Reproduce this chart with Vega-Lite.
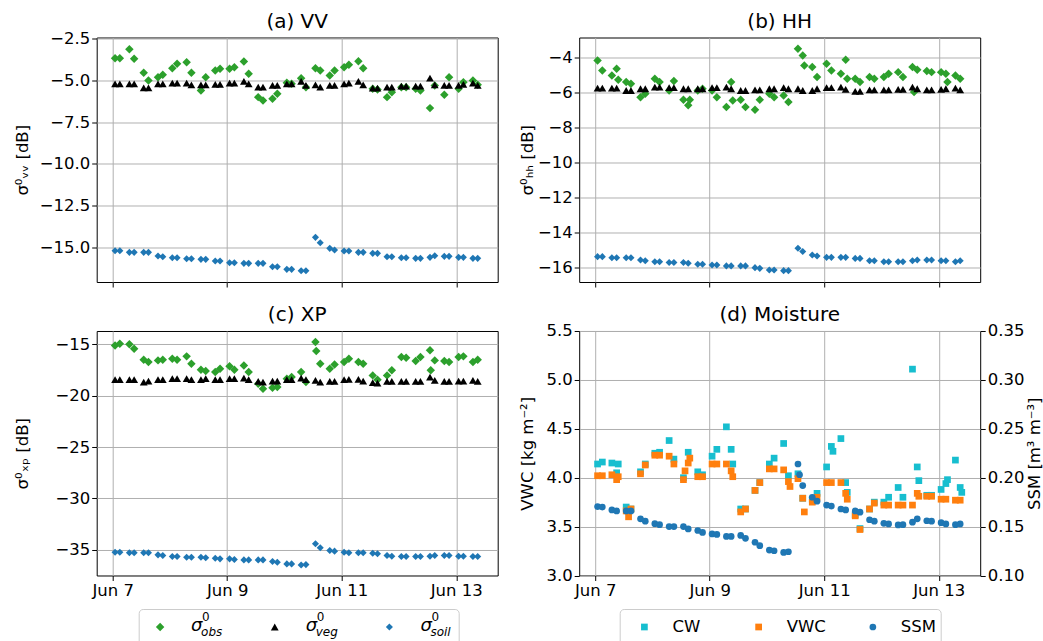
{
  "$schema": "https://vega.github.io/schema/vega-lite/v6.json",
  "background": "white",
  "padding": {"left": 5.7, "top": 10.5, "right": 0, "bottom": 0},
  "config": {
    "font": "DejaVu Sans",
    "view": {"stroke": "black", "strokeWidth": 1},
    "axis": {"labelFontSize": 16.5, "titleFontSize": 16.5, "titleFontWeight": "normal", "labelColor": "black", "titleColor": "black", "tickColor": "black", "tickSize": 5, "tickWidth": 1, "labelPadding": 2, "domain": false, "gridColor": "#b0b0b0", "gridWidth": 1},
    "title": {"fontSize": 20, "fontWeight": "normal", "color": "black", "frame": "group", "anchor": "middle"},
    "point": {"strokeWidth": 0}
  },
  "bounds": "full",
  "spacing": 8.5,
  "resolve": {"scale": {"color": "independent", "shape": "independent", "size": "independent"}},
  "datasets": {
    "vv": [
      {"t":"2020-06-07T01:00","obs":-3.66,"veg":-5.2,"soil":-15.22},
      {"t":"2020-06-07T03:00","obs":-3.66,"veg":-5.2,"soil":-15.22},
      {"t":"2020-06-07T07:00","obs":-3.12,"veg":-5.2,"soil":-15.32},
      {"t":"2020-06-07T09:00","obs":-3.7,"veg":-5.2,"soil":-15.32},
      {"t":"2020-06-07T13:00","obs":-4.54,"veg":-5.44,"soil":-15.32},
      {"t":"2020-06-07T15:00","obs":-5.0,"veg":-5.44,"soil":-15.32},
      {"t":"2020-06-07T19:00","obs":-4.8,"veg":-5.2,"soil":-15.54},
      {"t":"2020-06-07T21:00","obs":-4.66,"veg":-5.2,"soil":-15.58},
      {"t":"2020-06-08T01:00","obs":-4.26,"veg":-5.16,"soil":-15.64},
      {"t":"2020-06-08T03:00","obs":-4.0,"veg":-5.16,"soil":-15.64},
      {"t":"2020-06-08T07:00","obs":-3.9,"veg":-5.16,"soil":-15.7},
      {"t":"2020-06-08T09:00","obs":-4.54,"veg":-5.26,"soil":-15.7},
      {"t":"2020-06-08T13:00","obs":-5.6,"veg":-5.26,"soil":-15.74},
      {"t":"2020-06-08T15:00","obs":-4.8,"veg":-5.26,"soil":-15.74},
      {"t":"2020-06-08T19:00","obs":-4.4,"veg":-5.24,"soil":-15.84},
      {"t":"2020-06-08T21:00","obs":-4.3,"veg":-5.24,"soil":-15.84},
      {"t":"2020-06-09T01:00","obs":-4.3,"veg":-5.16,"soil":-15.94},
      {"t":"2020-06-09T03:00","obs":-4.2,"veg":-5.16,"soil":-15.94},
      {"t":"2020-06-09T07:00","obs":-3.86,"veg":-5.06,"soil":-15.98},
      {"t":"2020-06-09T09:00","obs":-4.6,"veg":-5.2,"soil":-15.98},
      {"t":"2020-06-09T13:00","obs":-6.0,"veg":-5.4,"soil":-15.98},
      {"t":"2020-06-09T15:00","obs":-6.2,"veg":-5.4,"soil":-15.98},
      {"t":"2020-06-09T19:00","obs":-6.1,"veg":-5.3,"soil":-16.18},
      {"t":"2020-06-09T21:00","obs":-5.8,"veg":-5.3,"soil":-16.18},
      {"t":"2020-06-10T01:00","obs":-5.14,"veg":-5.2,"soil":-16.34},
      {"t":"2020-06-10T03:00","obs":-5.2,"veg":-5.2,"soil":-16.34},
      {"t":"2020-06-10T07:00","obs":-4.86,"veg":-5.06,"soil":-16.42},
      {"t":"2020-06-10T09:00","obs":-5.4,"veg":-5.3,"soil":-16.42},
      {"t":"2020-06-10T13:00","obs":-4.26,"veg":-5.26,"soil":-14.42},
      {"t":"2020-06-10T15:00","obs":-4.4,"veg":-5.4,"soil":-14.74},
      {"t":"2020-06-10T19:00","obs":-4.7,"veg":-5.3,"soil":-15.08},
      {"t":"2020-06-10T21:00","obs":-4.4,"veg":-5.3,"soil":-15.18},
      {"t":"2020-06-11T01:00","obs":-4.2,"veg":-5.2,"soil":-15.24},
      {"t":"2020-06-11T03:00","obs":-4.06,"veg":-5.16,"soil":-15.24},
      {"t":"2020-06-11T07:00","obs":-3.84,"veg":-5.06,"soil":-15.32},
      {"t":"2020-06-11T09:00","obs":-4.26,"veg":-5.26,"soil":-15.32},
      {"t":"2020-06-11T13:00","obs":-5.5,"veg":-5.46,"soil":-15.38},
      {"t":"2020-06-11T15:00","obs":-5.54,"veg":-5.46,"soil":-15.38},
      {"t":"2020-06-11T19:00","obs":-6.0,"veg":-5.4,"soil":-15.58},
      {"t":"2020-06-11T21:00","obs":-5.7,"veg":-5.4,"soil":-15.58},
      {"t":"2020-06-12T01:00","obs":-5.4,"veg":-5.34,"soil":-15.64},
      {"t":"2020-06-12T03:00","obs":-5.4,"veg":-5.34,"soil":-15.64},
      {"t":"2020-06-12T07:00","obs":-5.5,"veg":-5.34,"soil":-15.68},
      {"t":"2020-06-12T09:00","obs":-5.6,"veg":-5.34,"soil":-15.68},
      {"t":"2020-06-12T13:00","obs":-6.66,"veg":-4.86,"soil":-15.62},
      {"t":"2020-06-12T15:00","obs":-5.3,"veg":-5.26,"soil":-15.52},
      {"t":"2020-06-12T19:00","obs":-5.86,"veg":-5.3,"soil":-15.56},
      {"t":"2020-06-12T21:00","obs":-4.8,"veg":-5.3,"soil":-15.56},
      {"t":"2020-06-13T01:00","obs":-5.5,"veg":-5.3,"soil":-15.62},
      {"t":"2020-06-13T03:00","obs":-5.1,"veg":-5.24,"soil":-15.62},
      {"t":"2020-06-13T07:00","obs":-5.0,"veg":-5.16,"soil":-15.68},
      {"t":"2020-06-13T09:00","obs":-5.26,"veg":-5.3,"soil":-15.68}
    ],
    "hh": [
      {"t":"2020-06-07T01:00","obs":-4.17,"veg":-5.75,"soil":-15.39},
      {"t":"2020-06-07T03:00","obs":-4.74,"veg":-5.75,"soil":-15.39},
      {"t":"2020-06-07T07:00","obs":-5.03,"veg":-5.75,"soil":-15.45},
      {"t":"2020-06-07T09:00","obs":-4.65,"veg":-5.75,"soil":-15.45},
      {"t":"2020-06-07T13:00","obs":-5.41,"veg":-5.89,"soil":-15.45},
      {"t":"2020-06-07T15:00","obs":-5.5,"veg":-5.89,"soil":-15.45},
      {"t":"2020-06-07T19:00","obs":-6.27,"veg":-5.79,"soil":-15.58},
      {"t":"2020-06-07T21:00","obs":-6.08,"veg":-5.79,"soil":-15.62},
      {"t":"2020-06-08T01:00","obs":-5.22,"veg":-5.7,"soil":-15.68},
      {"t":"2020-06-08T03:00","obs":-5.41,"veg":-5.7,"soil":-15.68},
      {"t":"2020-06-08T07:00","obs":-5.89,"veg":-5.73,"soil":-15.73},
      {"t":"2020-06-08T09:00","obs":-5.35,"veg":-5.73,"soil":-15.73},
      {"t":"2020-06-08T13:00","obs":-6.42,"veg":-5.79,"soil":-15.73},
      {"t":"2020-06-08T15:00","obs":-6.74,"veg":-5.79,"soil":-15.77},
      {"t":"2020-06-08T19:00","obs":-5.89,"veg":-5.79,"soil":-15.83},
      {"t":"2020-06-08T21:00","obs":-5.79,"veg":-5.79,"soil":-15.83},
      {"t":"2020-06-09T01:00","obs":-5.89,"veg":-5.73,"soil":-15.87},
      {"t":"2020-06-09T03:00","obs":-6.27,"veg":-5.73,"soil":-15.87},
      {"t":"2020-06-09T07:00","obs":-6.84,"veg":-5.7,"soil":-15.92},
      {"t":"2020-06-09T09:00","obs":-5.41,"veg":-5.79,"soil":-15.92},
      {"t":"2020-06-09T13:00","obs":-6.42,"veg":-5.89,"soil":-15.92},
      {"t":"2020-06-09T15:00","obs":-6.84,"veg":-5.89,"soil":-15.92},
      {"t":"2020-06-09T19:00","obs":-6.99,"veg":-5.85,"soil":-16.02},
      {"t":"2020-06-09T21:00","obs":-6.42,"veg":-5.85,"soil":-16.06},
      {"t":"2020-06-10T01:00","obs":-6.08,"veg":-5.79,"soil":-16.15},
      {"t":"2020-06-10T03:00","obs":-6.27,"veg":-5.79,"soil":-16.15},
      {"t":"2020-06-10T07:00","obs":-6.17,"veg":-5.73,"soil":-16.19},
      {"t":"2020-06-10T09:00","obs":-6.55,"veg":-5.79,"soil":-16.19},
      {"t":"2020-06-10T13:00","obs":-3.5,"veg":-5.79,"soil":-14.91},
      {"t":"2020-06-10T15:00","obs":-3.89,"veg":-5.89,"soil":-15.1},
      {"t":"2020-06-10T19:00","obs":-4.55,"veg":-5.89,"soil":-15.3},
      {"t":"2020-06-10T21:00","obs":-5.12,"veg":-5.79,"soil":-15.35},
      {"t":"2020-06-11T01:00","obs":-4.36,"veg":-5.73,"soil":-15.43},
      {"t":"2020-06-11T03:00","obs":-4.74,"veg":-5.73,"soil":-15.43},
      {"t":"2020-06-11T07:00","obs":-4.93,"veg":-5.7,"soil":-15.43},
      {"t":"2020-06-11T09:00","obs":-4.13,"veg":-5.83,"soil":-15.43},
      {"t":"2020-06-11T13:00","obs":-5.22,"veg":-5.94,"soil":-15.49},
      {"t":"2020-06-11T15:00","obs":-5.41,"veg":-5.94,"soil":-15.49},
      {"t":"2020-06-11T19:00","obs":-5.12,"veg":-5.85,"soil":-15.62},
      {"t":"2020-06-11T21:00","obs":-5.22,"veg":-5.85,"soil":-15.62},
      {"t":"2020-06-12T01:00","obs":-5.12,"veg":-5.85,"soil":-15.68},
      {"t":"2020-06-12T03:00","obs":-4.93,"veg":-5.85,"soil":-15.68},
      {"t":"2020-06-12T07:00","obs":-4.84,"veg":-5.83,"soil":-15.68},
      {"t":"2020-06-12T09:00","obs":-5.12,"veg":-5.83,"soil":-15.68},
      {"t":"2020-06-12T13:00","obs":-4.55,"veg":-5.7,"soil":-15.62},
      {"t":"2020-06-12T15:00","obs":-4.7,"veg":-5.79,"soil":-15.58},
      {"t":"2020-06-12T19:00","obs":-4.78,"veg":-5.85,"soil":-15.58},
      {"t":"2020-06-12T21:00","obs":-4.84,"veg":-5.85,"soil":-15.58},
      {"t":"2020-06-13T01:00","obs":-4.84,"veg":-5.83,"soil":-15.62},
      {"t":"2020-06-13T03:00","obs":-4.93,"veg":-5.79,"soil":-15.62},
      {"t":"2020-06-13T07:00","obs":-5.03,"veg":-5.75,"soil":-15.68},
      {"t":"2020-06-13T09:00","obs":-5.22,"veg":-5.85,"soil":-15.62},
      {"t":"2020-06-07T09:40","obs":-5.28},
      {"t":"2020-06-08T15:40","obs":-6.42},
      {"t":"2020-06-09T09:40","obs":-6.46},
      {"t":"2020-06-10T15:40","obs":-4.46},
      {"t":"2020-06-11T09:40","obs":-5.22},
      {"t":"2020-06-12T13:40","obs":-5.98},
      {"t":"2020-06-13T03:40","obs":-5.41}
    ],
    "xp": [
      {"t":"2020-06-07T01:00","obs":-15.1,"veg":-18.44,"soil":-35.23},
      {"t":"2020-06-07T03:00","obs":-14.94,"veg":-18.44,"soil":-35.23},
      {"t":"2020-06-07T07:00","obs":-15.0,"veg":-18.44,"soil":-35.29},
      {"t":"2020-06-07T09:00","obs":-15.42,"veg":-18.44,"soil":-35.29},
      {"t":"2020-06-07T13:00","obs":-16.49,"veg":-18.67,"soil":-35.29},
      {"t":"2020-06-07T15:00","obs":-16.72,"veg":-18.57,"soil":-35.29},
      {"t":"2020-06-07T19:00","obs":-16.56,"veg":-18.44,"soil":-35.49},
      {"t":"2020-06-07T21:00","obs":-16.49,"veg":-18.44,"soil":-35.56},
      {"t":"2020-06-08T01:00","obs":-16.4,"veg":-18.34,"soil":-35.65},
      {"t":"2020-06-08T03:00","obs":-16.49,"veg":-18.34,"soil":-35.65},
      {"t":"2020-06-08T07:00","obs":-16.17,"veg":-18.34,"soil":-35.72},
      {"t":"2020-06-08T09:00","obs":-16.88,"veg":-18.44,"soil":-35.72},
      {"t":"2020-06-08T13:00","obs":-17.47,"veg":-18.44,"soil":-35.72},
      {"t":"2020-06-08T15:00","obs":-17.6,"veg":-18.34,"soil":-35.78},
      {"t":"2020-06-08T19:00","obs":-17.69,"veg":-18.44,"soil":-35.82},
      {"t":"2020-06-08T21:00","obs":-17.37,"veg":-18.44,"soil":-35.88},
      {"t":"2020-06-09T01:00","obs":-17.14,"veg":-18.34,"soil":-35.88},
      {"t":"2020-06-09T03:00","obs":-17.47,"veg":-18.34,"soil":-35.95},
      {"t":"2020-06-09T07:00","obs":-17.05,"veg":-18.28,"soil":-35.98},
      {"t":"2020-06-09T09:00","obs":-17.69,"veg":-18.44,"soil":-35.98},
      {"t":"2020-06-09T13:00","obs":-18.83,"veg":-18.6,"soil":-35.98},
      {"t":"2020-06-09T15:00","obs":-19.32,"veg":-18.67,"soil":-35.98},
      {"t":"2020-06-09T19:00","obs":-19.22,"veg":-18.57,"soil":-36.14},
      {"t":"2020-06-09T21:00","obs":-19.16,"veg":-18.57,"soil":-36.21},
      {"t":"2020-06-10T01:00","obs":-18.34,"veg":-18.44,"soil":-36.37},
      {"t":"2020-06-10T03:00","obs":-18.18,"veg":-18.44,"soil":-36.37},
      {"t":"2020-06-10T07:00","obs":-17.69,"veg":-18.28,"soil":-36.47},
      {"t":"2020-06-10T09:00","obs":-18.67,"veg":-18.44,"soil":-36.44},
      {"t":"2020-06-10T13:00","obs":-14.77,"veg":-18.51,"soil":-34.41},
      {"t":"2020-06-10T15:00","obs":-16.88,"veg":-18.67,"soil":-34.8},
      {"t":"2020-06-10T19:00","obs":-17.37,"veg":-18.6,"soil":-35.07},
      {"t":"2020-06-10T21:00","obs":-16.95,"veg":-18.6,"soil":-35.13},
      {"t":"2020-06-11T01:00","obs":-16.72,"veg":-18.44,"soil":-35.23},
      {"t":"2020-06-11T03:00","obs":-16.4,"veg":-18.41,"soil":-35.29},
      {"t":"2020-06-11T07:00","obs":-16.72,"veg":-18.41,"soil":-35.29},
      {"t":"2020-06-11T09:00","obs":-16.88,"veg":-18.57,"soil":-35.29},
      {"t":"2020-06-11T13:00","obs":-18.02,"veg":-18.73,"soil":-35.33},
      {"t":"2020-06-11T15:00","obs":-18.44,"veg":-18.77,"soil":-35.39},
      {"t":"2020-06-11T19:00","obs":-18.02,"veg":-18.6,"soil":-35.56},
      {"t":"2020-06-11T21:00","obs":-17.53,"veg":-18.6,"soil":-35.62},
      {"t":"2020-06-12T01:00","obs":-16.23,"veg":-18.6,"soil":-35.65},
      {"t":"2020-06-12T03:00","obs":-16.3,"veg":-18.6,"soil":-35.65},
      {"t":"2020-06-12T07:00","obs":-16.62,"veg":-18.6,"soil":-35.65},
      {"t":"2020-06-12T09:00","obs":-16.23,"veg":-18.6,"soil":-35.65},
      {"t":"2020-06-12T13:00","obs":-15.58,"veg":-18.18,"soil":-35.62},
      {"t":"2020-06-12T15:00","obs":-16.56,"veg":-18.51,"soil":-35.56},
      {"t":"2020-06-12T19:00","obs":-16.62,"veg":-18.6,"soil":-35.56},
      {"t":"2020-06-12T21:00","obs":-16.72,"veg":-18.6,"soil":-35.56},
      {"t":"2020-06-13T01:00","obs":-16.23,"veg":-18.57,"soil":-35.62},
      {"t":"2020-06-13T03:00","obs":-16.17,"veg":-18.57,"soil":-35.62},
      {"t":"2020-06-13T07:00","obs":-16.72,"veg":-18.51,"soil":-35.65},
      {"t":"2020-06-13T09:00","obs":-16.49,"veg":-18.6,"soil":-35.65},
      {"t":"2020-06-10T13:20","obs":-15.65},
      {"t":"2020-06-12T13:20","obs":-17.53}
    ],
    "moist": [
      {"t":"2020-06-07T01:00","CW":4.14,"VWC":4.02,"SSM":0.1705},
      {"t":"2020-06-07T03:00","CW":4.16,"VWC":4.02,"SSM":0.170},
      {"t":"2020-06-07T07:00","CW":4.15,"VWC":4.03,"SSM":0.167},
      {"t":"2020-06-07T09:00","CW":4.05,"VWC":3.98,"SSM":0.166},
      {"t":"2020-06-07T13:00","CW":3.70,"VWC":3.66,"SSM":0.166},
      {"t":"2020-06-07T15:00","CW":3.68,"VWC":3.68,"SSM":0.166},
      {"t":"2020-06-07T19:00","CW":4.06,"VWC":4.04,"SSM":0.158},
      {"t":"2020-06-07T21:00","CW":4.14,"VWC":4.13,"SSM":0.1555},
      {"t":"2020-06-08T01:00","CW":4.25,"VWC":4.23,"SSM":0.153},
      {"t":"2020-06-08T03:00","CW":4.26,"VWC":4.23,"SSM":0.152},
      {"t":"2020-06-08T07:00","CW":4.38,"VWC":4.22,"SSM":0.150},
      {"t":"2020-06-08T09:00","CW":4.19,"VWC":4.14,"SSM":0.150},
      {"t":"2020-06-08T13:00","CW":4.0,"VWC":3.98,"SSM":0.150},
      {"t":"2020-06-08T15:00","CW":4.26,"VWC":4.15,"SSM":0.1476},
      {"t":"2020-06-08T19:00","CW":4.06,"VWC":4.01,"SSM":0.146},
      {"t":"2020-06-08T21:00","CW":4.03,"VWC":4.01,"SSM":0.144},
      {"t":"2020-06-09T01:00","CW":4.22,"VWC":4.14,"SSM":0.1425},
      {"t":"2020-06-09T03:00","CW":4.29,"VWC":4.14,"SSM":0.142},
      {"t":"2020-06-09T07:00","CW":4.52,"VWC":4.14,"SSM":0.140},
      {"t":"2020-06-09T09:00","CW":4.29,"VWC":4.07,"SSM":0.140},
      {"t":"2020-06-09T13:00","CW":3.68,"VWC":3.65,"SSM":0.141},
      {"t":"2020-06-09T15:00","CW":3.68,"VWC":3.68,"SSM":0.138},
      {"t":"2020-06-09T19:00","CW":3.87,"VWC":3.87,"SSM":0.134},
      {"t":"2020-06-09T21:00","CW":3.95,"VWC":3.95,"SSM":0.1305},
      {"t":"2020-06-10T01:00","CW":4.14,"VWC":4.09,"SSM":0.126},
      {"t":"2020-06-10T03:00","CW":4.20,"VWC":4.09,"SSM":0.1253},
      {"t":"2020-06-10T07:00","CW":4.35,"VWC":4.08,"SSM":0.1236},
      {"t":"2020-06-10T09:00","CW":4.02,"VWC":3.96,"SSM":0.1243},
      {"t":"2020-06-10T13:00","CW":4.04,"VWC":3.99,"SSM":0.214},
      {"t":"2020-06-10T15:00","CW":3.79,"VWC":3.79,"SSM":0.192},
      {"t":"2020-06-10T19:00","CW":3.78,"VWC":3.75,"SSM":0.180},
      {"t":"2020-06-10T21:00","CW":3.84,"VWC":3.80,"SSM":0.176},
      {"t":"2020-06-11T01:00","CW":4.11,"VWC":3.95,"SSM":0.172},
      {"t":"2020-06-11T03:00","CW":4.32,"VWC":3.95,"SSM":0.171},
      {"t":"2020-06-11T07:00","CW":4.40,"VWC":3.95,"SSM":0.168},
      {"t":"2020-06-11T09:00","CW":3.95,"VWC":3.84,"SSM":0.167},
      {"t":"2020-06-11T13:00","CW":3.62,"VWC":3.61,"SSM":0.166},
      {"t":"2020-06-11T15:00","CW":3.48,"VWC":3.47,"SSM":0.1647},
      {"t":"2020-06-11T19:00","CW":3.68,"VWC":3.68,"SSM":0.157},
      {"t":"2020-06-11T21:00","CW":3.75,"VWC":3.74,"SSM":0.1555},
      {"t":"2020-06-12T01:00","CW":3.75,"VWC":3.72,"SSM":0.1534},
      {"t":"2020-06-12T03:00","CW":3.80,"VWC":3.72,"SSM":0.1527},
      {"t":"2020-06-12T07:00","CW":3.90,"VWC":3.72,"SSM":0.1517},
      {"t":"2020-06-12T09:00","CW":3.80,"VWC":3.72,"SSM":0.152},
      {"t":"2020-06-12T13:00","CW":5.11,"VWC":3.72,"SSM":0.1545},
      {"t":"2020-06-12T15:00","CW":4.11,"VWC":3.84,"SSM":0.158},
      {"t":"2020-06-12T19:00","CW":3.82,"VWC":3.81,"SSM":0.156},
      {"t":"2020-06-12T21:00","CW":3.82,"VWC":3.81,"SSM":0.1555},
      {"t":"2020-06-13T01:00","CW":3.88,"VWC":3.78,"SSM":0.154},
      {"t":"2020-06-13T03:00","CW":3.94,"VWC":3.78,"SSM":0.1527},
      {"t":"2020-06-13T07:00","CW":4.18,"VWC":3.77,"SSM":0.152},
      {"t":"2020-06-13T09:00","CW":3.90,"VWC":3.77,"SSM":0.1527},
      {"t":"2020-06-10T13:40","SSM":0.203},
      {"t":"2020-06-07T09:40","CW":4.14,"VWC":4.01},
      {"t":"2020-06-07T14:00","VWC":3.60},
      {"t":"2020-06-08T13:40","VWC":4.07},
      {"t":"2020-06-08T15:40","VWC":4.20},
      {"t":"2020-06-09T09:40","CW":4.14,"VWC":4.01},
      {"t":"2020-06-10T09:40","VWC":3.91},
      {"t":"2020-06-10T15:40","VWC":3.65},
      {"t":"2020-06-11T03:40","CW":4.27},
      {"t":"2020-06-11T09:40","CW":3.85,"VWC":3.78},
      {"t":"2020-06-12T15:40","CW":3.97,"VWC":3.81},
      {"t":"2020-06-13T03:40","CW":3.98},
      {"t":"2020-06-13T09:40","CW":3.85}
    ]
  },
  "vconcat": [
    {
      "columns": 2,
      "bounds": "full",
      "align": "each",
      "spacing": {"row": 8.5, "column": 9.5},
      "resolve": {"scale": {"color": "independent", "shape": "independent", "size": "independent"}},
      "concat": [
        {
          "width": 401, "height": 244.5,
          "title": {"text": "(a) VV", "offset": -1},
          "data": {"name": "vv"},
          "transform": [{"fold": ["obs", "veg", "soil"], "as": ["series", "value"]}],
          "mark": {"type": "point", "filled": true, "opacity": 1},
          "encoding": {
            "x": {"field": "t", "type": "temporal",
              "scale": {"domain": [{"year": 2020, "month": 6, "date": 6, "hours": 17, "minutes": 18}, {"year": 2020, "month": 6, "date": 13, "hours": 17, "minutes": 23}]},
              "axis": {"values": [{"year": 2020, "month": 6, "date": 7}, {"year": 2020, "month": 6, "date": 9}, {"year": 2020, "month": 6, "date": 11}, {"year": 2020, "month": 6, "date": 13}], "labels": false, "grid": true, "title": ".", "titleOpacity": 0, "titleX": -90, "titleY": 0, "titleAlign": "left", "titleBaseline": "top", "titleAngle": 0, "titleFontSize": 13.2}},
            "y": {"field": "value", "type": "quantitative",
              "scale": {"domain": [-17.1, -2.42], "nice": false, "zero": false},
              "axis": {"values": [-15, -12.5, -10, -7.5, -5, -2.5], "format": ".1f", "title": "σ⁰ᵥᵥ [dB]", "titleX": -65.7, "titleAngle": 270, "titleBaseline": "bottom"}},
            "color": {"field": "series", "type": "nominal", "scale": {"domain": ["obs", "veg", "soil"], "range": ["#2ca02c", "black", "#1f77b4"]}, "legend": null},
            "shape": {"field": "series", "type": "nominal", "scale": {"domain": ["obs", "veg", "soil"], "range": ["diamond", "triangle-up", "diamond"]}, "legend": null},
            "size": {"field": "series", "type": "nominal", "scale": {"domain": ["obs", "veg", "soil"], "range": [72, 50, 72]}, "legend": null},
            "order": {"field": "series"}
          }
        },
        {
          "width": 401, "height": 244.5,
          "title": {"text": "(b) HH", "offset": 6},
          "data": {"name": "hh"},
          "transform": [{"fold": ["obs", "veg", "soil"], "as": ["series", "value"]}],
          "mark": {"type": "point", "filled": true, "opacity": 1},
          "encoding": {
            "x": {"field": "t", "type": "temporal",
              "scale": {"domain": [{"year": 2020, "month": 6, "date": 6, "hours": 17, "minutes": 18}, {"year": 2020, "month": 6, "date": 13, "hours": 17, "minutes": 23}]},
              "axis": {"values": [{"year": 2020, "month": 6, "date": 7}, {"year": 2020, "month": 6, "date": 9}, {"year": 2020, "month": 6, "date": 11}, {"year": 2020, "month": 6, "date": 13}], "labels": false, "grid": true, "title": ".", "titleOpacity": 0, "titleX": -70, "titleY": 0, "titleAlign": "left", "titleBaseline": "top", "titleAngle": 0, "titleFontSize": 13.2}},
            "y": {"field": "value", "type": "quantitative",
              "scale": {"domain": [-16.84, -2.86], "nice": false, "zero": false},
              "axis": {"values": [-16, -14, -12, -10, -8, -6, -4], "format": "d", "title": "σ⁰ₕₕ [dB]", "titleX": -43.7, "titleAngle": 270, "titleBaseline": "bottom"}},
            "color": {"field": "series", "type": "nominal", "scale": {"domain": ["obs", "veg", "soil"], "range": ["#2ca02c", "black", "#1f77b4"]}, "legend": null},
            "shape": {"field": "series", "type": "nominal", "scale": {"domain": ["obs", "veg", "soil"], "range": ["diamond", "triangle-up", "diamond"]}, "legend": null},
            "size": {"field": "series", "type": "nominal", "scale": {"domain": ["obs", "veg", "soil"], "range": [72, 50, 72]}, "legend": null},
            "order": {"field": "series"}
          }
        },
        {
          "width": 401, "height": 244.5,
          "title": {"text": "(c) XP", "offset": 6},
          "data": {"name": "xp"},
          "transform": [{"fold": ["obs", "veg", "soil"], "as": ["series", "value"]}],
          "mark": {"type": "point", "filled": true, "opacity": 1},
          "encoding": {
            "x": {"field": "t", "type": "temporal",
              "scale": {"domain": [{"year": 2020, "month": 6, "date": 6, "hours": 17, "minutes": 18}, {"year": 2020, "month": 6, "date": 13, "hours": 17, "minutes": 23}]},
              "axis": {"values": [{"year": 2020, "month": 6, "date": 7}, {"year": 2020, "month": 6, "date": 9}, {"year": 2020, "month": 6, "date": 11}, {"year": 2020, "month": 6, "date": 13}], "format": "%b %e", "labelFlush": false, "grid": true, "title": ".", "titleOpacity": 0, "titleX": -90, "titleY": 0, "titleAlign": "left", "titleBaseline": "top", "titleAngle": 0, "titleFontSize": 8}},
            "y": {"field": "value", "type": "quantitative",
              "scale": {"domain": [-37.5, -13.7], "nice": false, "zero": false},
              "axis": {"values": [-35, -30, -25, -20, -15], "format": "d", "title": "σ⁰ₓₚ [dB]", "titleX": -65.7, "titleAngle": 270, "titleBaseline": "bottom"}},
            "color": {"field": "series", "type": "nominal", "scale": {"domain": ["obs", "veg", "soil"], "range": ["#2ca02c", "black", "#1f77b4"]}, "legend": null},
            "shape": {"field": "series", "type": "nominal", "scale": {"domain": ["obs", "veg", "soil"], "range": ["diamond", "triangle-up", "diamond"]}, "legend": null},
            "size": {"field": "series", "type": "nominal", "scale": {"domain": ["obs", "veg", "soil"], "range": [72, 50, 72]}, "legend": null},
            "order": {"field": "series"}
          }
        },
        {
          "width": 401, "height": 244.5,
          "title": {"text": "(d) Moisture", "offset": -2},
          "data": {"name": "moist"},
          "encoding": {
            "x": {"field": "t", "type": "temporal",
              "scale": {"domain": [{"year": 2020, "month": 6, "date": 6, "hours": 17, "minutes": 18}, {"year": 2020, "month": 6, "date": 13, "hours": 17, "minutes": 23}]},
              "axis": {"values": [{"year": 2020, "month": 6, "date": 7}, {"year": 2020, "month": 6, "date": 9}, {"year": 2020, "month": 6, "date": 11}, {"year": 2020, "month": 6, "date": 13}], "format": "%b %e", "labelFlush": false, "grid": true, "title": ".", "titleOpacity": 0, "titleX": -70, "titleY": 0, "titleAlign": "left", "titleBaseline": "top", "titleAngle": 0, "titleFontSize": 8}}
          },
          "layer": [
            {
              "transform": [{"fold": ["CW", "VWC"], "as": ["series", "value"]}],
              "mark": {"type": "point", "filled": true, "opacity": 1, "shape": "square", "size": 45},
              "encoding": {
                "y": {"field": "value", "type": "quantitative",
                  "scale": {"domain": [3, 5.5], "nice": false, "zero": false},
                  "axis": {"values": [3, 3.5, 4, 4.5, 5, 5.5], "format": ".1f", "title": "VWC [kg m⁻²]", "titleX": -43.7, "titleAngle": 270, "titleBaseline": "bottom"}},
                "color": {"field": "series", "type": "nominal", "scale": {"domain": ["CW", "VWC"], "range": ["#17becf", "#ff7f0e"]}, "legend": null},
                "order": {"field": "series"}
              }
            },
            {
              "mark": {"type": "point", "filled": true, "opacity": 1, "shape": "circle", "size": 45, "color": "#1f77b4"},
              "encoding": {
                "y": {"field": "SSM", "type": "quantitative",
                  "scale": {"domain": [0.1, 0.35], "nice": false, "zero": false},
                  "axis": {"orient": "right", "values": [0.1, 0.15, 0.2, 0.25, 0.3, 0.35], "format": ".2f", "grid": false, "title": "SSM [m³ m⁻³]", "titleX": 62.7, "titleAngle": 270, "titleBaseline": "bottom"}}
              }
            }
          ],
          "resolve": {"scale": {"y": "independent"}}
        }
      ]
    },
    {
      "bounds": "full",
      "align": "each",
      "spacing": 0,
      "resolve": {"scale": {"color": "independent", "shape": "independent", "size": "independent"}},
      "hconcat": [
        {
          "width": 41, "height": 36,
          "view": {"stroke": null, "fill": null},
          "data": {"values": []},
          "mark": "point"
        },
        {
          "width": 320, "height": 36,
          "view": {"stroke": "#cccccc", "cornerRadius": 4, "fill": "white"},
          "data": {"values": [{"k": "obs"}, {"k": "veg"}, {"k": "soil"}]},
          "encoding": {
            "x": {"field": "k", "type": "nominal", "scale": {"type": "point", "domain": ["obs", "veg", "soil"], "padding": 0.3956, "align": 0.236}, "axis": null}
          },
          "layer": [
            {
              "mark": {"type": "point", "filled": true, "opacity": 1},
              "encoding": {
                "color": {"field": "k", "type": "nominal", "scale": {"domain": ["obs", "veg", "soil"], "range": ["#2ca02c", "black", "#1f77b4"]}, "legend": null},
                "shape": {"field": "k", "type": "nominal", "scale": {"domain": ["obs", "veg", "soil"], "range": ["diamond", "triangle-up", "diamond"]}, "legend": null},
                "size": {"field": "k", "type": "nominal", "scale": {"domain": ["obs", "veg", "soil"], "range": [72, 50, 72]}, "legend": null}
              }
            },
            {"mark": {"type": "text", "text": "σ", "align": "left", "baseline": "alphabetic", "dx": 31, "dy": 4, "fontSize": 18, "fontStyle": "italic", "color": "black"}},
            {"mark": {"type": "text", "text": "0", "align": "left", "baseline": "alphabetic", "dx": 42, "dy": -6, "fontSize": 12, "color": "black"}},
            {"mark": {"type": "text", "align": "left", "baseline": "alphabetic", "dx": 41, "dy": 9, "fontSize": 12, "fontStyle": "italic", "color": "black"}, "encoding": {"text": {"field": "k"}}}
          ]
        },
        {
          "width": 321, "height": 36,
          "view": {"stroke": "#cccccc", "cornerRadius": 4, "fill": "white"},
          "data": {"values": [{"k": "CW"}, {"k": "VWC"}, {"k": "SSM"}]},
          "encoding": {
            "x": {"field": "k", "type": "nominal", "scale": {"type": "point", "domain": ["CW", "VWC", "SSM"], "padding": 0.405, "align": 0.267},
              "axis": {"labels": false, "ticks": false, "domain": false, "grid": false, "title": ".", "titleOpacity": 0, "titleX": -159.3, "titleY": -30, "titleAlign": "left", "titleBaseline": "top", "titleAngle": 0, "titleFontSize": 8}}
          },
          "layer": [
            {
              "mark": {"type": "point", "filled": true, "opacity": 1, "size": 45},
              "encoding": {
                "color": {"field": "k", "type": "nominal", "scale": {"domain": ["CW", "VWC", "SSM"], "range": ["#17becf", "#ff7f0e", "#1f77b4"]}, "legend": null},
                "shape": {"field": "k", "type": "nominal", "scale": {"domain": ["CW", "VWC", "SSM"], "range": ["square", "square", "circle"]}, "legend": null}
              }
            },
            {"mark": {"type": "text", "align": "left", "baseline": "middle", "dx": 28, "fontSize": 16.5, "color": "black"}, "encoding": {"text": {"field": "k"}}}
          ]
        }
      ]
    }
  ]
}
